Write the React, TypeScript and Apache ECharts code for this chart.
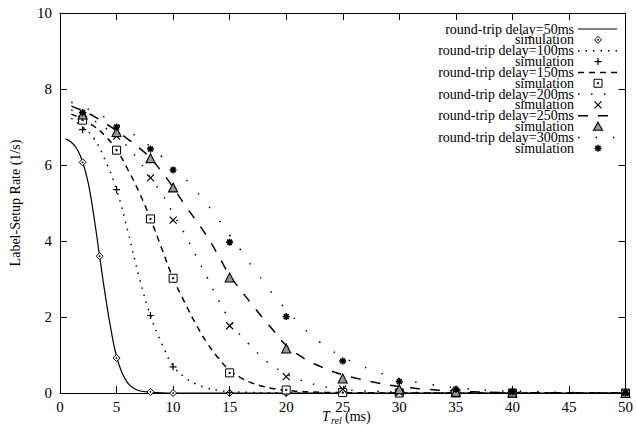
import React, { useEffect, useRef } from "react";
import * as echarts from "echarts";

// ---------- data ----------
const delays = ["50", "100", "150", "200", "250", "300"];
const xTicks = [0, 5, 10, 15, 20, 25, 30, 35, 40, 45, 50];
const yTicks = [0, 2, 4, 6, 8, 10];

// analytic curves
const curve50X = [0.5, 1, 1.5, 2, 2.5, 3, 3.5, 4, 4.5, 5, 5.5, 6, 6.5, 7, 8, 9, 10, 20, 30, 40, 50];
const curve50Y = [6.68, 6.6, 6.42, 6.08, 5.52, 4.64, 3.6, 2.58, 1.68, 0.96, 0.52, 0.26, 0.13, 0.06, 0.02, 0.005, 0, 0, 0, 0, 0];

const curveX = [1, 2, 3, 4, 5, 6, 7, 8, 9, 10, 11, 12, 13, 14, 15, 16, 17, 18, 19, 20, 21, 22, 23, 24, 25, 26, 28, 30, 32, 35, 38, 40, 45, 50];
const curve100Y = [7.23, 7.0, 6.7, 6.12, 5.35, 4.25, 3.05, 2.04, 1.3, 0.72, 0.42, 0.24, 0.13, 0.07, 0.04, 0.025, 0.015, 0.008, 0.004, 0.002, 0.001, 0, 0, 0, 0, 0, 0, 0, 0, 0, 0, 0, 0, 0];
const curve150Y = [7.34, 7.2, 7.02, 6.76, 6.4, 5.88, 5.28, 4.58, 3.8, 3.02, 2.4, 1.82, 1.32, 0.92, 0.6, 0.4, 0.26, 0.17, 0.11, 0.07, 0.045, 0.03, 0.02, 0.013, 0.01, 0.006, 0.003, 0.001, 0, 0, 0, 0, 0, 0];
const curve200Y = [7.45, 7.32, 7.17, 6.98, 6.76, 6.47, 6.1, 5.66, 5.25, 4.72, 4.2, 3.62, 3.05, 2.45, 1.93, 1.5, 1.2, 0.9, 0.68, 0.5, 0.37, 0.27, 0.19, 0.13, 0.1, 0.07, 0.04, 0.02, 0.01, 0.004, 0.001, 0, 0, 0];
const curve250Y = [7.55, 7.43, 7.28, 7.1, 6.9, 6.68, 6.45, 6.18, 5.82, 5.41, 4.97, 4.55, 4.12, 3.62, 3.1, 2.7, 2.32, 1.95, 1.6, 1.25, 1.02, 0.84, 0.7, 0.58, 0.48, 0.4, 0.27, 0.17, 0.11, 0.05, 0.02, 0.012, 0.003, 0];
const curve300Y = [7.65, 7.53, 7.4, 7.25, 7.08, 6.9, 6.7, 6.48, 6.22, 5.95, 5.66, 5.33, 4.97, 4.57, 4.15, 3.75, 3.32, 2.93, 2.53, 2.2, 1.88, 1.58, 1.33, 1.12, 0.95, 0.8, 0.56, 0.38, 0.26, 0.14, 0.07, 0.05, 0.015, 0];

// simulation points
const sim50X = [2, 3.5, 5, 8, 10, 15, 20, 25, 30, 35, 40, 50];
const sim50Y = [6.07, 3.6, 0.92, 0.03, 0, 0, 0, 0, 0, 0, 0, 0];
const simX = [2, 5, 8, 10, 15, 20, 25, 30, 35, 40, 50];
const sim100Y = [6.93, 5.35, 2.04, 0.69, 0.01, 0, 0, 0, 0, 0, 0];
const sim150Y = [7.18, 6.39, 4.58, 3.02, 0.53, 0.08, 0.01, 0, 0, 0, 0];
const sim200Y = [7.3, 6.76, 5.66, 4.55, 1.77, 0.43, 0.1, 0.02, 0, 0, 0];
const sim250Y = [7.33, 6.87, 6.18, 5.41, 3.04, 1.17, 0.38, 0.1, 0.03, 0.01, 0];
const sim300Y = [7.38, 7.0, 6.42, 5.87, 3.97, 2.01, 0.84, 0.3, 0.1, 0.03, 0];

const curvesX = [curve50X, curveX, curveX, curveX, curveX, curveX];
const curvesY = [curve50Y, curve100Y, curve150Y, curve200Y, curve250Y, curve300Y];
const simsX = [sim50X, simX, simX, simX, simX, simX];
const simsY = [sim50Y, sim100Y, sim150Y, sim200Y, sim250Y, sim300Y];

// ---------- styles ----------
const FONT = '"Liberation Serif", "Times New Roman", serif';
const dashes: (number[] | "solid")[] = ["solid", [1.5, 6], [6, 5], [1.5, 11.5], [10, 10], [1.5, 16]];
const symPaths = [
  "M5,0L10,5L5,10L0,5Z M4.4,4.4L5.6,4.4L5.6,5.6L4.4,5.6Z",
  "M5,0L5,10M0,5L10,5",
  "M0,0L10,0L10,10L0,10Z M4.2,4.2L5.8,4.2L5.8,5.8L4.2,5.8Z",
  "M0,0L10,10M10,0L0,10",
  "M5,0L10,9L0,9Z",
  "M5,0L5,10M0,5L10,5M1.5,1.5L8.5,8.5M8.5,1.5L1.5,8.5",
];
const symSizes = [7, 7, 8, 7, 9, 7];
const symFill = ["#fff", "none", "#fff", "none", "#999", "none"];
const symStroke = [1, 1.2, 1, 1.2, 1.1, 1.6];

symPaths.forEach((d, i) => {
  echarts.graphic.registerShape("legsym" + i, echarts.graphic.extendPath(d, {}));
});

const grid = { left: 54, right: 9, top: 13, bottom: 32 };

export default function App() {
  const ref = useRef<HTMLDivElement>(null);
  useEffect(() => {
    document.body.style.margin = "0";
    const chart = echarts.init(ref.current!, undefined, { renderer: "svg" });

    const series: any[] = [];
    for (let i = 0; i < delays.length; i++) {
      series.push({
        type: "line",
        name: "round-trip delay=" + delays[i] + "ms",
        data: curvesX[i].map((x, k) => [x, curvesY[i][k]]),
        showSymbol: false,
        symbol: "none",
        smooth: 0.5,
        lineStyle: { color: "#000", width: i === 0 ? 1.2 : 1.5, type: dashes[i], cap: "butt" },
        silent: true,
        z: 2,
      });
    }
    for (let i = 0; i < delays.length; i++) {
      series.push({
        type: "scatter",
        name: "simulation " + delays[i],
        data: simsX[i].map((x, k) => [x, simsY[i][k]]),
        symbol: "path://" + symPaths[i],
        symbolSize: symSizes[i],
        clip: false,
        itemStyle: { color: symFill[i], borderColor: "#000", borderWidth: symStroke[i], opacity: 1 },
        silent: true,
        z: 3 + i,
      });
    }

    // legend (gnuplot style: text right-aligned, sample on the right)
    const graphic: any[] = [];
    const textRight = 574;
    const sampleX1 = 578;
    const sampleX2 = 617;
    const symX = 598;
    const y0 = 29;
    const step = 10.85;
    for (let i = 0; i < delays.length; i++) {
      const yl = y0 + step * 2 * i;
      const ys = yl + step;
      graphic.push({
        type: "text",
        x: textRight,
        y: yl,
        style: { text: "round-trip delay=" + delays[i] + "ms", fill: "#000", font: "14px " + FONT, align: "right", verticalAlign: "middle" },
      });
      graphic.push({
        type: "line",
        shape: { x1: sampleX1, y1: yl, x2: sampleX2, y2: yl },
        style: { stroke: "#000", lineWidth: i === 0 ? 1.2 : 1.5, lineDash: dashes[i] === "solid" ? null : dashes[i], lineCap: "butt" },
      });
      graphic.push({
        type: "text",
        x: textRight,
        y: ys,
        style: { text: "simulation", fill: "#000", font: "14px " + FONT, align: "right", verticalAlign: "middle" },
      });
      const s = symSizes[i] / 10;
      graphic.push({
        type: "legsym" + i,
        x: symX - symSizes[i] / 2,
        y: ys - symSizes[i] / 2,
        scaleX: s,
        scaleY: s,
        style: { fill: symFill[i], stroke: "#000", lineWidth: symStroke[i] / s },
      });
    }
    // x axis title: T_rel (ms)
    graphic.push({ type: "text", x: 322, y: 416, style: { text: "T", fill: "#000", font: "italic 14px " + FONT, verticalAlign: "middle" } });
    graphic.push({ type: "text", x: 331, y: 420, style: { text: "rel", fill: "#000", font: "italic 10px " + FONT, verticalAlign: "middle" } });
    graphic.push({ type: "text", x: 345, y: 416, style: { text: "(ms)", fill: "#000", font: "14px " + FONT, verticalAlign: "middle" } });

    const axisBase = {
      type: "value",
      axisLine: { show: true, onZero: false, lineStyle: { color: "#000", width: 1 } },
      axisTick: { show: true, inside: true, length: 7, lineStyle: { color: "#000", width: 1 } },
      splitLine: { show: false },
    };

    chart.setOption({
      animation: false,
      backgroundColor: "#fff",
      grid,
      xAxis: [
        {
          ...axisBase,
          position: "bottom",
          min: xTicks[0],
          max: xTicks[xTicks.length - 1],
          interval: xTicks[1] - xTicks[0],
          axisLabel: { color: "#000", fontFamily: FONT, fontSize: 15, margin: 6 },
        },
        {
          ...axisBase,
          position: "top",
          min: xTicks[0],
          max: xTicks[xTicks.length - 1],
          interval: xTicks[1] - xTicks[0],
          axisLabel: { show: false },
        },
      ],
      yAxis: [
        {
          ...axisBase,
          position: "left",
          min: yTicks[0],
          max: yTicks[yTicks.length - 1],
          interval: yTicks[1] - yTicks[0],
          axisLabel: { color: "#000", fontFamily: FONT, fontSize: 15, margin: 8 },
          name: "Label-Setup Rate (1/s)",
          nameLocation: "middle",
          nameGap: 38,
          nameRotate: 90,
          nameTextStyle: { color: "#000", fontFamily: FONT, fontSize: 14 },
        },
        {
          ...axisBase,
          position: "right",
          min: yTicks[0],
          max: yTicks[yTicks.length - 1],
          interval: yTicks[1] - yTicks[0],
          axisLabel: { show: false },
        },
      ],
      series,
      graphic,
    });
    return () => chart.dispose();
  }, []);
  return <div ref={ref} style={{ width: 636, height: 425 }} />;
}
